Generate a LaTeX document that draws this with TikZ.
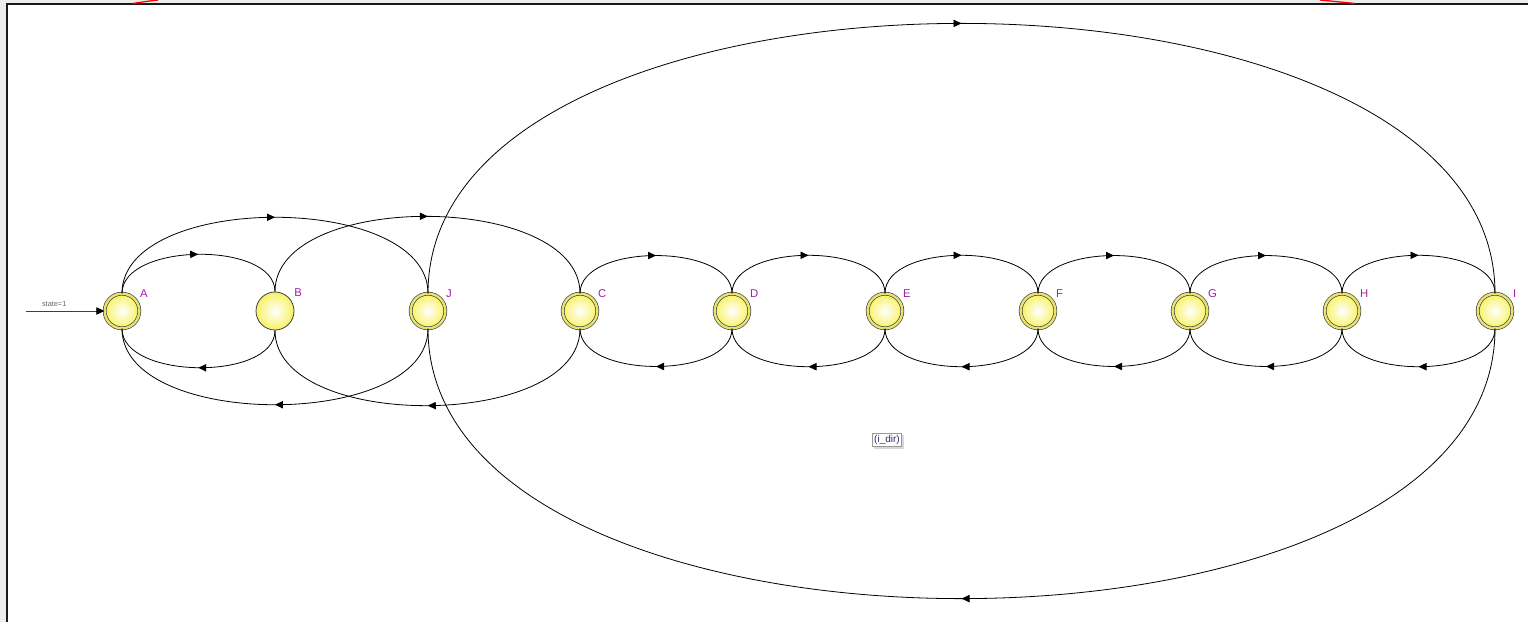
\documentclass[tikz,border=0pt]{standalone}
\usepackage{fontspec}
\setmainfont{Liberation Sans}
\usetikzlibrary{arrows.meta,decorations.markings,shadows,calc}
\definecolor{stfill}{RGB}{248,242,100}
\definecolor{string}{RGB}{232,226,110}
\definecolor{lblc}{RGB}{165,30,165}
\definecolor{idir}{RGB}{40,40,110}
\begin{document}
\begin{tikzpicture}[x=0.75pt,y=-0.75pt,
  stbase/.style={circle,inner sep=0pt,shading=radial,inner color=white,outer color=stfill,
    label={[lblc,font=\fontsize{8.5}{9}\selectfont,label distance=1pt,yshift=-3.5pt]45:#1}},
  acc/.style={stbase=#1,minimum size=26pt,draw=black!75,line width=0.5pt,double=string,double distance=1.8pt},
  plain/.style={stbase=#1,minimum size=28.5pt,draw=black!75,line width=0.6pt},
  edge/.style={line width=0.6pt,black,postaction={decorate},
    decoration={markings,mark=at position 0.5 with {\arrow{Triangle[length=6pt,width=5.5pt]}}}},
  up/.style={edge,out=90,in=90,looseness=#1},
  dn/.style={edge,out=-90,in=-90,looseness=#1}
]
\useasboundingbox (0,0) rectangle (1528,622);
% window frame
\fill[gray!15] (0,0) rectangle (1528,622);
\fill[white] (7,4) rectangle (1528,622);
\draw[line width=1.5pt,black!90] (7,622) -- (7,4) -- (1528,4);
\draw[red,line width=1pt] (133,3.5) .. controls (142,2) .. (158,0);
\draw[red,line width=1pt] (1320,0) .. controls (1338,1.5) .. (1355,3.5);

% states
\node[acc=A]   (A) at (122,311) {};
\node[plain=B] (B) at (275,311) {};
\node[acc=J]   (J) at (428,311) {};
\node[acc=C]   (C) at (580,311) {};
\node[acc=D]   (D) at (732,311) {};
\node[acc=E]   (E) at (885,311) {};
\node[acc=F]   (F) at (1038,311) {};
\node[acc=G]   (G) at (1190,311) {};
\node[acc=H]   (H) at (1342,311) {};
\node[acc=I]   (I) at (1495,311) {};

% transitions
\foreach \a/\b/\l in {A/B/0.85,C/D/0.85,D/E/0.85,E/F/0.85,F/G/0.85,G/H/0.85,H/I/0.85,A/J/0.85,B/C/0.85,J/I/0.865}{
  \draw[up=\l] (\a.north) to (\b.north);
  \draw[dn=\l] (\b.south) to (\a.south);
}

% initial arrow
\coordinate (init) at (26,311);
\draw[black!75,line width=0.6pt,-{Triangle[length=6pt,width=5.5pt,black]}] (init) -- (A.west)
  node[pos=0.36,above=0pt,black!60,font=\fontsize{5.5}{6}\selectfont] {state=1};

% label box
\node[draw=gray!80,fill=white,line width=0.6pt,inner sep=1.5pt,text=idir,
  font=\fontsize{7.5}{8}\selectfont,
  drop shadow={shadow xshift=1.5pt,shadow yshift=-1.5pt,fill=gray!60}] (idir) at (887,440) {(i\_dir)};
\end{tikzpicture}
\end{document}
